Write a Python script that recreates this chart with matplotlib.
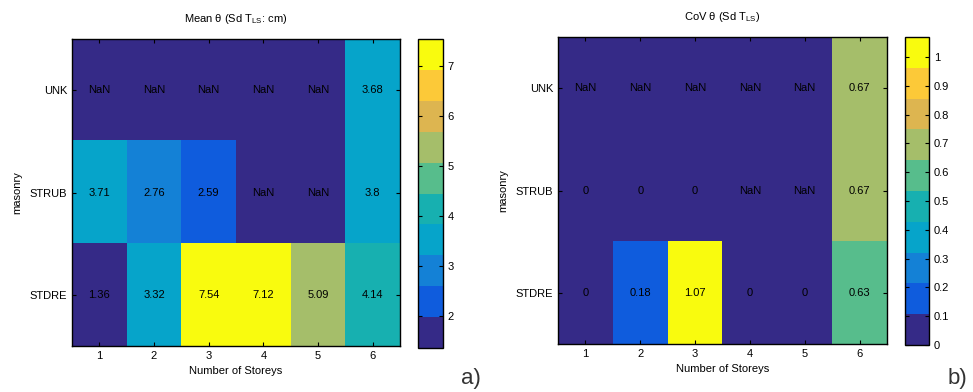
#!/usr/bin/env python3
import matplotlib
matplotlib.use('Agg')
import matplotlib.pyplot as plt
import numpy as np
from matplotlib.colors import ListedColormap

plt.rcParams['font.family'] = ['Liberation Sans', 'DejaVu Sans']
plt.rcParams['mathtext.fontset'] = 'custom'
plt.rcParams['mathtext.rm'] = 'Liberation Sans'
plt.rcParams['mathtext.it'] = 'Liberation Sans:italic'
plt.rcParams['font.size'] = 8

# Data
storeys = [1, 2, 3, 4, 5, 6]
masonry = ['UNK', 'STRUB', 'STDRE']
nan = np.nan
mean_theta = [
    [nan, nan, nan, nan, nan, 3.68],
    [3.71, 2.76, 2.59, nan, nan, 3.8],
    [1.36, 3.32, 7.54, 7.12, 5.09, 4.14],
]
cov_theta = [
    [nan, nan, nan, nan, nan, 0.67],
    [0, 0, 0, nan, nan, 0.67],
    [0, 0.18, 1.07, 0, 0, 0.63],
]
mean_ticks = [2, 3, 4, 5, 6, 7]
cov_ticks = [0, 0.1, 0.2, 0.3, 0.4, 0.5, 0.6, 0.7, 0.8, 0.9, 1]

# parula, 10 steps
parula10 = ['#352a87', '#0f5cdd', '#1481d6', '#06a4ca', '#17b0b0',
            '#57bd8c', '#a5be6a', '#ddb550', '#fcc938', '#f9fb0e']
cmap = ListedColormap(parula10)
cmap.set_bad(parula10[0])

fig = plt.figure(figsize=(9.73, 3.92), dpi=100)


def heat(ax_rect, cb_rect, data, ticks, title, label):
    ax = fig.add_axes(ax_rect)
    cax = fig.add_axes(cb_rect)
    d = np.array(data, dtype=float)
    vmin = np.nanmin(d)
    vmax = np.nanmax(d)
    im = ax.imshow(np.ma.masked_invalid(d), cmap=cmap, vmin=vmin, vmax=vmax,
                   aspect='auto', interpolation='nearest',
                   extent=(0.5, 6.5, 3.5, 0.5))
    for i in range(d.shape[0]):
        for j in range(d.shape[1]):
            v = d[i, j]
            s = 'NaN' if np.isnan(v) else f'{round(v, 2):g}'
            ax.text(storeys[j], i + 1, s, ha='center', va='center',
                    color='black', fontsize=8)
    ax.set_xticks(storeys)
    ax.set_yticks([1, 2, 3])
    ax.set_yticklabels(masonry)
    ax.tick_params(direction='in', length=3, top=True, right=True,
                   labelsize=8, width=0.8)
    ax.set_xlabel('Number of Storeys', fontsize=8, labelpad=4)
    ax.set_ylabel('masonry', fontsize=8, labelpad=5)
    ax.set_title(title, fontsize=8, pad=12)
    for s in ax.spines.values():
        s.set_linewidth(1.0)

    cb = fig.colorbar(im, cax=cax)
    cb.set_ticks(ticks)
    cb.set_ticklabels([f'{t:g}' for t in ticks])
    cax.tick_params(direction='in', length=3, left=True, right=True,
                    labelsize=8, width=0.8)
    cb.outline.set_linewidth(1.0)

    fig.text(ax_rect[0] + 0.40, 0.035, label, fontsize=16, color='#333333',
             ha='left', va='center')
    return ax


heat([0.0740, 0.1173, 0.3371, 0.7832], [0.4296, 0.1122, 0.0257, 0.788],
     mean_theta, mean_ticks, 'Mean θ (Sd T$_{\\mathrm{LS}}$: cm)', 'a)')
heat([0.5735, 0.1224, 0.3381, 0.783], [0.9301, 0.1199, 0.0247, 0.786],
     cov_theta, cov_ticks, 'CoV θ (Sd T$_{\\mathrm{LS}}$)', 'b)')

fig.savefig('out.png', dpi=100)
